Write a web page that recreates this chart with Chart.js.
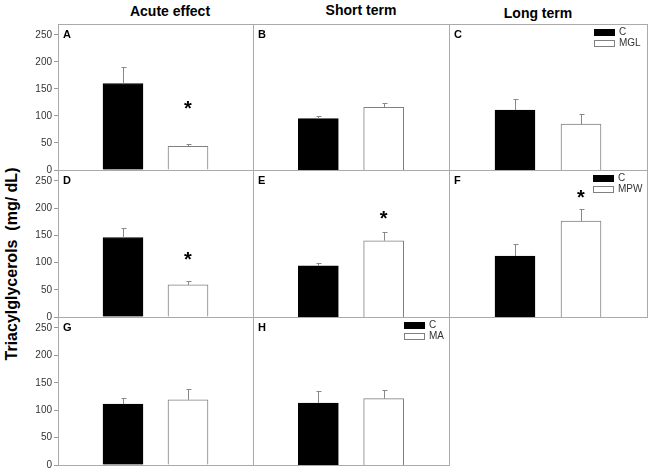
<!DOCTYPE html>
<html>
<head>
<meta charset="utf-8">
<script src="https://cdn.jsdelivr.net/npm/chart.js@4/dist/chart.umd.min.js"></script>
<style>
  body { margin: 0; background: #fff; }
  #wrap { position: relative; width: 649px; height: 472px; overflow: hidden; font-family: Arial, "Liberation Sans", sans-serif; }
  #wrap canvas { position: absolute; }
  .coltitle { position: absolute; font-weight: bold; font-size: 14px; color: #000; transform: translate(-50%, -50%); white-space: nowrap; }
  #ytitle { position: absolute; left: 12px; top: 264px; font-weight: bold; font-size: 16px; white-space: pre; transform: translate(-50%, -50%) rotate(-90deg); }
</style>
</head>
<body>
<div id="wrap">
  <div id="ytitle">Triacylglycerols  (mg/ dL)</div>
</div>
<script>
// values
const panelIds = ["A", "B", "C", "D", "E", "F", "G", "H"];
const columnTitles = ["Acute effect", "Short term", "Long term"];
const controlMeans = [160, 95, 111, 146, 94, 112, 111, 113];
const controlErr = [30, 5, 21, 18, 6, 22, 12, 22];
const treatedMeans = [44, 116, 85, 59, 140, 176, 119, 121];
const treatedErr = [5, 8, 18, 8, 16, 22, 20, 15];
const treatedNames = ["MGL", "MGL", "MGL", "MPW", "MPW", "MPW", "MA", "MA"];
const starValues = [120, null, null, 111, 187, 225, null, null];
const showLegend = [false, false, true, false, false, true, false, true];
const yTicks = [0, 50, 100, 150, 200, 250];
const yMax = 270;

// layout of the grid (pixels)
const colLeft = [58, 253, 449], colRight = [253, 449, 647];
const rowTop = [24, 170, 317], rowBottom = [170, 317, 465];
const titlePos = [[170, 11], [361, 10], [538, 13]];
const legendInset = [0, 0, 53, 0, 0, 54, 0, 45];

const wrap = document.getElementById("wrap");
columnTitles.forEach((t, i) => {
  const d = document.createElement("div");
  d.className = "coltitle";
  d.textContent = t;
  d.style.left = titlePos[i][0] + "px";
  d.style.top = titlePos[i][1] + "px";
  wrap.appendChild(d);
});

const panelPlugin = {
  id: "panelDecor",
  afterDatasetsDraw(chart) {
    const ctx = chart.ctx, a = chart.chartArea, y = chart.scales.y;
    const p = chart.options.plugins.panelDecor;
    ctx.save();
    // error bars (upper only)
    ctx.strokeStyle = "#888";
    ctx.lineWidth = 1;
    chart.data.datasets.forEach((ds, di) => {
      const el = chart.getDatasetMeta(di).data[di + 1];
      const v = ds.data[di + 1];
      const yt = Math.round(y.getPixelForValue(v + ds.err)) + 0.5;
      const x = Math.round(el.x) + 0.5;
      ctx.beginPath();
      ctx.moveTo(x, el.y);
      ctx.lineTo(x, yt);
      ctx.moveTo(x - 2, yt);
      ctx.lineTo(x + 3, yt);
      ctx.stroke();
    });
    // frame, shared edges land on the same pixel as the neighbour's
    ctx.strokeStyle = "#aaa";
    ctx.strokeRect(a.left + 0.5, a.top + 0.5, a.right - a.left, a.bottom - a.top);
    // panel letter
    ctx.fillStyle = "#000";
    ctx.font = "bold 11px Arial, 'Liberation Sans'";
    ctx.textBaseline = "top";
    ctx.textAlign = "left";
    ctx.fillText(p.letter, a.left + 5, a.top + 5);
    // significance star
    if (p.star != null) {
      const el = chart.getDatasetMeta(1).data[2];
      ctx.font = "bold 20px Arial, 'Liberation Sans'";
      ctx.textAlign = "center";
      ctx.textBaseline = "middle";
      ctx.fillText("*", el.x, y.getPixelForValue(p.star) + 4);
    }
    // legend
    if (p.legend) {
      const bx = a.right - p.inset;
      ctx.font = "10px Arial, 'Liberation Sans'";
      ctx.textAlign = "left";
      ctx.textBaseline = "middle";
      chart.data.datasets.forEach((ds, di) => {
        const by = a.top + 5 + di * 11;
        ctx.fillStyle = ds.backgroundColor;
        ctx.fillRect(bx, by, 20, 7);
        ctx.strokeStyle = ds.borderColor;
        ctx.strokeRect(bx + 0.5, by + 0.5, 20, 6);
        ctx.fillStyle = "#333";
        ctx.fillText(ds.label, bx + 25, by + 3.5);
      });
    }
    ctx.restore();
  }
};

panelIds.forEach((id, i) => {
  const col = i % 3, row = Math.floor(i / 3);
  const left = colLeft[col], right = colRight[col];
  const top = rowTop[row], bottom = rowBottom[row];
  const padL = col === 0 ? 0 : 2;
  const yW = col === 0 ? 40 : 0;
  const cv = document.createElement("canvas");
  const w = right - left + yW + padL + 2;
  const h = bottom - top + 16;
  cv.width = w; cv.height = h;
  cv.style.left = (left - yW - padL) + "px";
  cv.style.top = (top - 8) + "px";
  cv.style.width = w + "px"; cv.style.height = h + "px";
  wrap.appendChild(cv);

  new Chart(cv.getContext("2d"), {
    type: "bar",
    data: {
      labels: ["", "C", treatedNames[i], ""],
      datasets: [
        { label: "C", data: [null, controlMeans[i], null, null], err: controlErr[i],
          backgroundColor: "#000", borderColor: "#000", borderWidth: 1 },
        { label: treatedNames[i], data: [null, null, treatedMeans[i], null], err: treatedErr[i],
          backgroundColor: "#fff", borderColor: "#808080", borderWidth: 1 }
      ]
    },
    options: {
      responsive: false,
      animation: false,
      devicePixelRatio: 1,
      layout: { padding: { left: padL, right: 2, top: 8, bottom: 8 } },
      datasets: { bar: { grouped: false, barThickness: 40 } },
      scales: {
        x: { display: false, offset: false },
        y: {
          display: col === 0,
          min: 0, max: yMax,
          afterFit: s => { s.width = yW; },
          afterBuildTicks: s => { s.ticks = yTicks.map(v => ({ value: v })); },
          border: { display: false },
          grid: { drawOnChartArea: false, drawTicks: true, tickLength: 4, color: "#999" },
          ticks: { padding: 2, color: "#333", font: { size: 10, family: "Arial, 'Liberation Sans'" } }
        }
      },
      plugins: {
        legend: { display: false },
        tooltip: { enabled: false },
        panelDecor: { letter: id, star: starValues[i], legend: showLegend[i], inset: legendInset[i] }
      }
    },
    plugins: [panelPlugin]
  });
});
</script>
</body>
</html>
